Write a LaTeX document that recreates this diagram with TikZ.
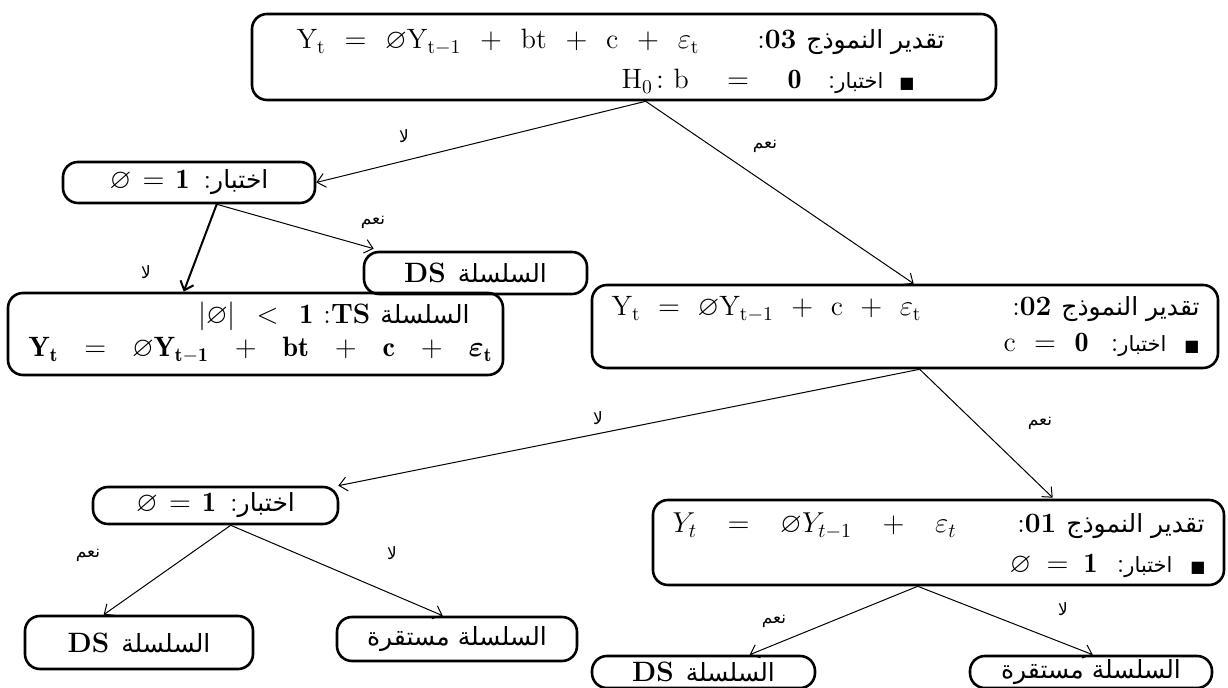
\documentclass[tikz,border=0pt]{standalone}
\usepackage{amsmath,amssymb}
\usepackage{fontspec}
\usetikzlibrary{arrows.meta,calc}
\TeXXeTstate=1
\newfontfamily\arabicfont[Script=Arabic]{DejaVu Sans}
\newcommand\arx[1]{{\arabicfont\fontsize{12.5}{14}\selectfont\beginR #1\endR}}
\newcommand\arxs[1]{{\arabicfont\fontsize{10.5}{12}\selectfont\beginR #1\endR}}
\newcommand\sq{{\arabicfont\fontsize{8}{9}\selectfont ■}}
\newcommand\hf{\hfill}
\begin{document}
\begin{tikzpicture}[x=0.5pt,y=-0.5pt,
  box/.style={draw,line width=1.3pt,rounded corners=7.5pt,inner sep=0pt,font=\fontsize{14}{16}\selectfont},
  txt/.style={anchor=base east,inner sep=0pt,font=\fontsize{14}{16}\selectfont},
  arr/.style={line width=0.5pt,-{Straight Barb[length=4pt,width=7pt]}},
  lab/.style={inner sep=0pt,font=\arabicfont\fontsize{8.5}{9}\selectfont}]
\useasboundingbox (0,0) rectangle (1228,688);
\clip (0,0) rectangle (1228,688);
% ---------- boxes
\node[box,minimum width=372pt,minimum height=43pt] (top) at (624,57) {};
\node[box,minimum width=126pt,minimum height=20.5pt] (A) at (189,182.5)
  {\makebox[40pt][s]{$\varnothing$\hf$=$\hf$\mathbf{1}$}\hspace{7pt}:\arx{اختبار}\hspace{4pt}};
\node[box,minimum width=111.5pt,minimum height=21pt] (ds1) at (475.5,273)
  {\textbf{DS}\hspace{6pt}\arx{السلسلة}};
\node[box,minimum width=247.5pt,minimum height=41pt] (ts) at (255.5,334) {};
\node[box,minimum width=313pt,minimum height=41.5pt] (m2) at (905,326.5) {};
\node[box,minimum width=122.5pt,minimum height=18.5pt] (B) at (215.5,505.5)
  {\makebox[40pt][s]{$\varnothing$\hf$=$\hf$\mathbf{1}$}\hspace{7pt}:\arx{اختبار}\hspace{4pt}};
\node[box,minimum width=285.5pt,minimum height=42.5pt] (m1) at (938.5,542.5) {};
\node[box,minimum width=114pt,minimum height=26.5pt] (ds2) at (139,642.5)
  {\textbf{DS}\hspace{6pt}\arx{السلسلة}};
\node[box,minimum width=120pt,minimum height=22pt] (st1) at (457,639)
  {\arx{السلسلة مستقرة}};
\node[box,minimum width=111.5pt,minimum height=16pt] (ds3) at (703.5,672)
  {\textbf{DS}\hspace{6pt}\arx{السلسلة}};
\node[box,minimum width=121pt,minimum height=16pt] (st2) at (1091,672)
  {\arx{السلسلة مستقرة}};
% ---------- texts inside the two-line boxes
\node[txt] (top1) at (945,49) {\makebox[324pt][s]{\makebox[201.5pt][s]{$\mathrm{Y_t}$\hf$=$\hf$\varnothing\mathrm{Y_{t-1}}$\hf$+$\hf$\mathrm{bt}$\hf$+$\hf$\mathrm{c}$\hf$+$\hf$\varepsilon_{\mathrm t}$}\hf:\textbf{03}\hspace{5pt}\arx{تقدير النموذج}}};
\node[txt] (top2) at (915,89) {\makebox[146.5pt][s]{\makebox[90pt][s]{$\mathrm{H_0}\colon\mathrm{b}$\hf$=$\hf$\mathbf{0}$}\hf:\arxs{اختبار}\hspace{8pt}\sq}};
\node[txt] (ts1) at (470,324) {$|\varnothing|\;\,<\;\,\mathbf{1}$\hspace{5pt}:\textbf{TS}\hspace{5pt}\arx{السلسلة}};
\node[txt] (ts2) at (493,357) {\makebox[232pt][s]{$\mathbf{Y_t}$\hf$=$\hf$\boldsymbol{\varnothing}\mathbf{Y_{t-1}}$\hf$+$\hf$\mathbf{bt}$\hf$+$\hf$\mathbf{c}$\hf$+$\hf$\boldsymbol{\varepsilon}_{\mathbf t}$}};
\node[txt] (m21) at (1200,316) {\makebox[294pt][s]{\makebox[155pt][s]{$\mathrm{Y_t}$\hf$=$\hf$\varnothing\mathrm{Y_{t-1}}$\hf$+$\hf$\mathrm{c}$\hf$+$\hf$\varepsilon_{\mathrm t}$}\hf:\textbf{02}\hspace{5pt}\arx{تقدير النموذج}}};
\node[txt] (m22) at (1200,352) {\makebox[98pt][s]{\makebox[42.5pt][s]{$\mathrm{c}$\hf$=$\hf$\mathbf{0}$}\hf:\arxs{اختبار}\hspace{9pt}\sq}};
\node[txt] (m11) at (1205,533) {\makebox[266pt][s]{\makebox[142pt][s]{$Y_t$\hf$=$\hf$\varnothing Y_{t-1}$\hf$+$\hf$\varepsilon_t$}\hf:\textbf{01}\hspace{5pt}\arx{تقدير النموذج}}};
\node[txt] (m12) at (1206,573) {\makebox[98pt][s]{\makebox[44pt][s]{$\varnothing$\hf$=$\hf$\mathbf{1}$}\hf:\arxs{اختبار}\hspace{9pt}\sq}};
% ---------- connectors
\coordinate (topx) at ($(top.south west)+(395,0)$);
\coordinate (ax) at ($(A.south west)+(155,0)$);
\coordinate (m2x) at ($(m2.south west)+(329,0)$);
\coordinate (bx) at ($(B.south west)+(139,0)$);
\coordinate (m1x) at ($(m1.south west)+(266,0)$);
\draw[arr] (topx) -- (A.east);
\draw[arr] (topx) -- ($(m2.north west)+(323,0)$);
\draw[arr,line width=1pt] (ax) -- ($(ts.north west)+(177,0)$);
\draw[arr] (ax) -- ($(ds1.north west)+(11,-2)$);
\draw[arr] (m2x) -- ($(B.north east)+(-1,0)$);
\draw[arr] (m2x) -- ($(m1.north west)+(401,-1)$);
\draw[arr] (bx) -- ($(ds2.north west)+(80,0)$);
\draw[arr] (bx) -- ($(st1.north west)+(107,0)$);
\draw[arr] (m1x) -- ($(ds3.north west)+(159,0)$);
\draw[arr] (m1x) -- ($(st2.north west)+(124,0)$);
% ---------- labels
\node[lab] (l1) at (404,136) {\beginR لا\endR};
\node[lab] (l2) at (765,146) {\beginR نعم\endR};
\node[lab] (l3) at (146,272) {\beginR لا\endR};
\node[lab] (l4) at (373,222) {\beginR نعم\endR};
\node[lab] (l5) at (598,418) {\beginR لا\endR};
\node[lab] (l6) at (1040,423) {\beginR نعم\endR};
\node[lab] (l7) at (88,555) {\beginR نعم\endR};
\node[lab] (l8) at (392,553) {\beginR لا\endR};
\node[lab] (l9) at (774,621) {\beginR نعم\endR};
\node[lab] (l10) at (1063,609) {\beginR لا\endR};
\end{tikzpicture}
\end{document}
